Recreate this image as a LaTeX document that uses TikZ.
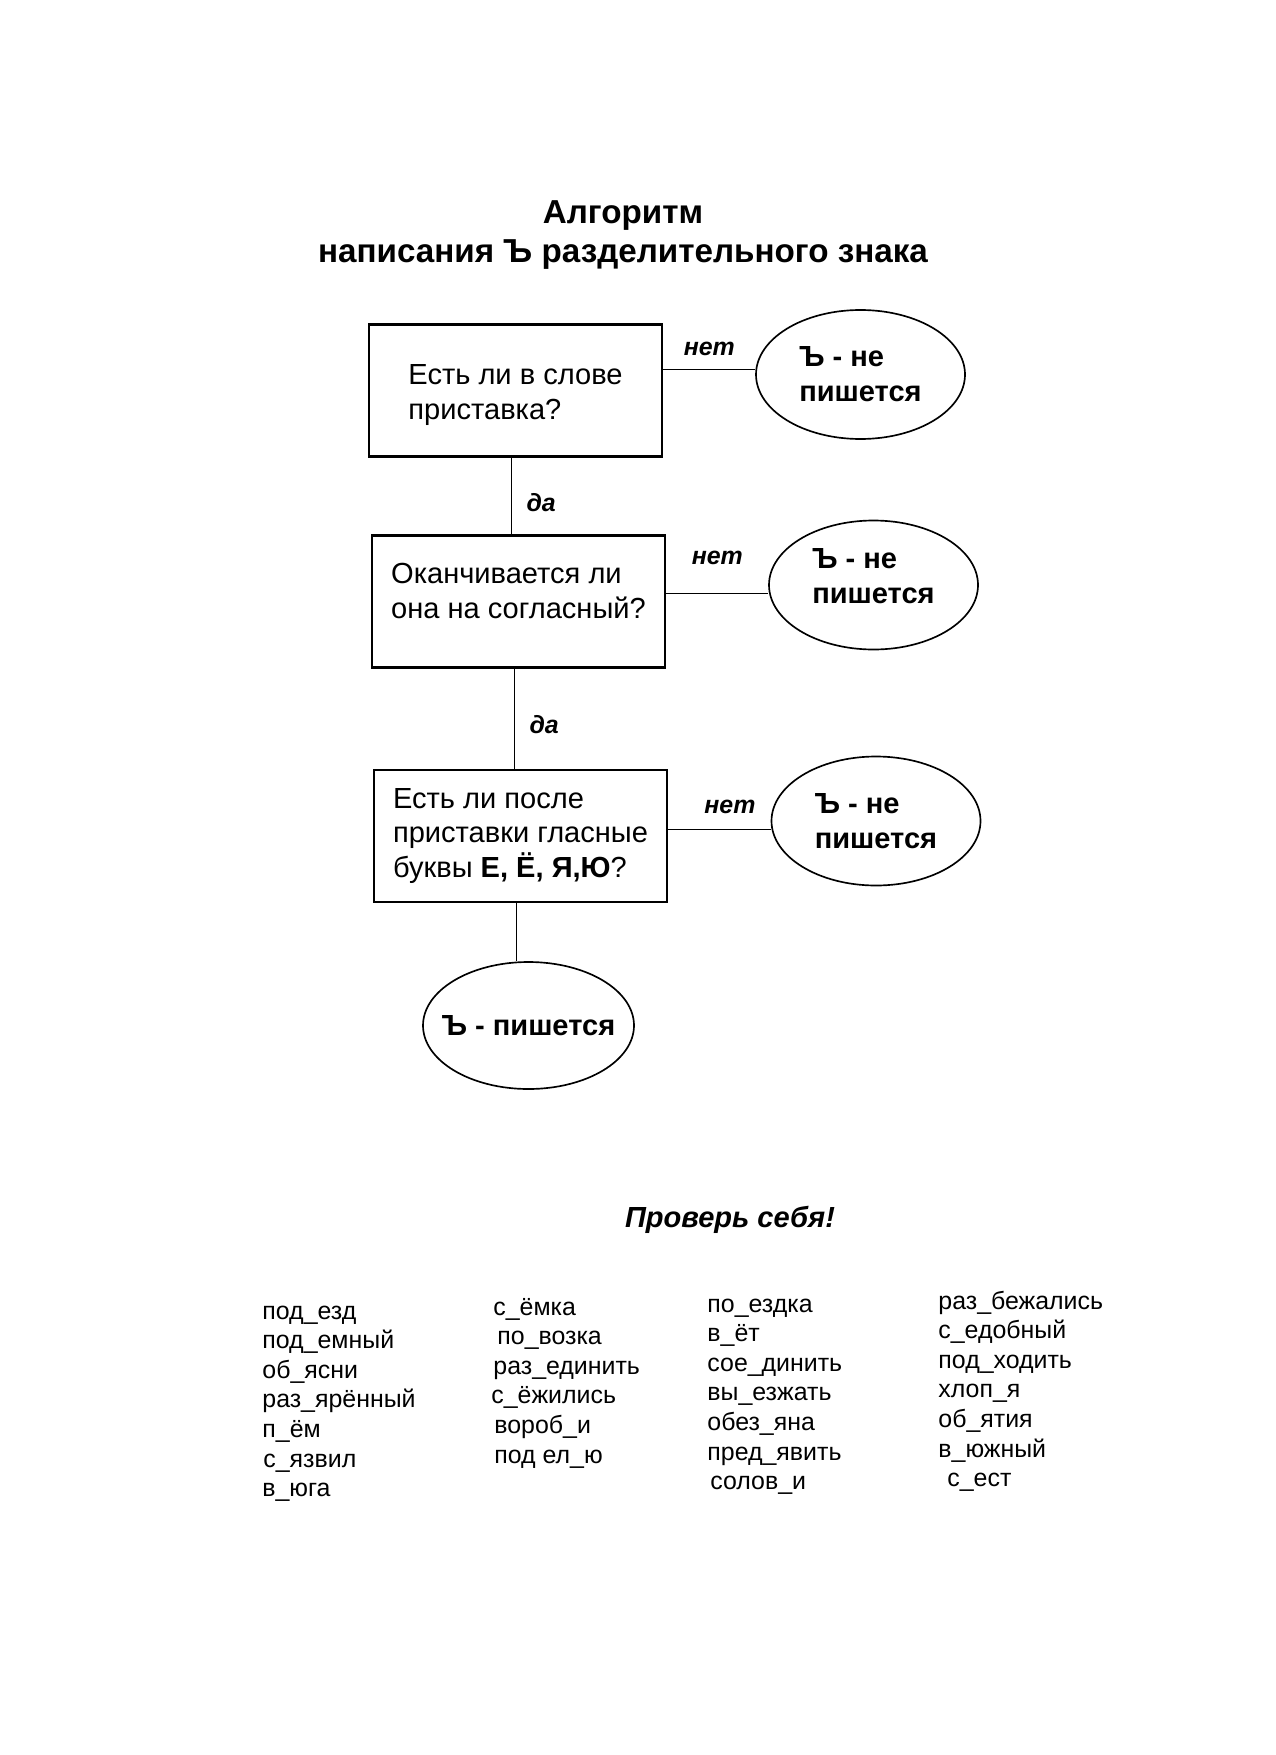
\documentclass[tikz,border=0pt]{standalone}
\usepackage{fontspec}
\setmainfont{Liberation Sans}
\usetikzlibrary{shapes.geometric}
\def\px{0.4818pt}
\newcommand{\Mot}[4]{\node[mot] (#1) at (#2,#3) {#4}}
\tikzset{
	boite/.style={draw, line width=1.4pt, align=left, inner sep=0pt,
		font=\fontsize{14}{16.8}\selectfont,
		minimum width=293*\px, minimum height=132*\px},
	ovale/.style={draw, ellipse, line width=0.8pt, align=left, inner sep=0pt,
		font=\bfseries\fontsize{14}{16.8}\selectfont,
		minimum width=209*\px, minimum height=129*\px},
	trait/.style={line width=0.8pt},
	reponse/.style={font=\bfseries\itshape\fontsize{12}{14}\selectfont},
	mot/.style={anchor=base west, inner sep=0pt, font=\fontsize{12}{14.4}\selectfont}
}
\begin{document}
\begin{tikzpicture}[x=\px, y=-\px]
	\def\pas{29.6};
\useasboundingbox (0,0) rectangle (1275,1755);

%Titre
\node[align=center, font=\bfseries\fontsize{16}{19}\selectfont] (titre) at (623,235)
	{Алгоритм\\написания Ъ разделительного знака};

%Questions
\node[boite, text height=31pt] (q1) at (515.5,390.5) {Есть ли в слове\\приставка?};
\node[boite, text depth=10.4pt] (q2) at (518.5,601.5) {Оканчивается ли\\она на согласный?};
\node[boite] (q3) at (520.5,836) {Есть ли после\\приставки гласные\\буквы \textbf{Е, Ё, Я,Ю}?};

%Reponses
\node[ovale] (e1) at (860.5,374.5) {Ъ - не\\пишется};
\node[ovale, text depth=9pt] (e2) at (873.5,585) {Ъ - не\\пишется};
\node[ovale] (e3) at (876,821) {Ъ - не\\пишется};
\node[ovale, minimum width=211*\px, minimum height=127*\px,
	label={[font=\bfseries\fontsize{14}{16.8}\selectfont]center:Ъ - пишется}] (e4) at (528.5,1025.5) {};

%Liens
\draw[trait] ([xshift=-4*\px]q1.south) -- node[reponse, right=3.5pt, yshift=-3pt] (da1) {да} ([xshift=-4*\px]q1.south |- q2.north);
\draw[trait] ([xshift=-4*\px]q2.south) -- node[reponse, right=3.5pt, yshift=-3pt] (da2) {да} ([xshift=-4*\px]q2.south |- q3.north);
\draw[trait] ([xshift=-4*\px]q3.south) -- ([xshift=-4*\px]q3.south |- e4.north);
\draw[trait] ([yshift=5*\px]q1.east |- e1.west) -- node[reponse, above=3pt] (net1) {нет} ([yshift=5*\px]e1.west);
\draw[trait] ([yshift=-8.4*\px]q2.east |- e2.west) -- node[reponse, above=10pt] (net2) {нет} ([yshift=-8.4*\px]e2.west);
\draw[trait] ([yshift=-8.4*\px]q3.east |- e3.west) -- node[reponse, above=4pt, xshift=5pt] (net3) {нет} ([yshift=-8.4*\px]e3.west);

%Exercice
\node[font=\bfseries\itshape\fontsize{14}{16.8}\selectfont] (verif) at (730,1220) {Проверь себя!};

\Mot{m11}{262}{1319}{под\_езд};
\Mot{m12}{262}{1319+\pas}{под\_емный};
\Mot{m13}{262}{1319+2*\pas}{об\_ясни};
\Mot{m14}{262}{1319+3*\pas}{раз\_ярённый};
\Mot{m15}{262}{1319+4*\pas}{п\_ём};
\Mot{m16}{263}{1319+5*\pas}{с\_язвил};
\Mot{m17}{262}{1319+6*\pas}{в\_юга};

\Mot{m21}{493}{1315}{с\_ёмка};
\Mot{m22}{497}{1315+\pas}{по\_возка};
\Mot{m23}{493}{1315+2*\pas}{раз\_единить};
\Mot{m24}{491}{1315+3*\pas}{с\_ёжились};
\Mot{m25}{494}{1315+4*\pas}{вороб\_и};
\Mot{m26}{494}{1315+5*\pas}{под ел\_ю};

\Mot{m31}{707}{1312}{по\_ездка};
\Mot{m32}{707}{1312+\pas}{в\_ёт};
\Mot{m33}{707}{1312+2*\pas}{сое\_динить};
\Mot{m34}{707}{1312+3*\pas}{вы\_езжать};
\Mot{m35}{707}{1312+4*\pas}{обез\_яна};
\Mot{m36}{707}{1312+5*\pas}{пред\_явить};
\Mot{m37}{710}{1312+6*\pas}{солов\_и};

\Mot{m41}{938}{1309}{раз\_бежались};
\Mot{m42}{938}{1309+\pas}{с\_едобный};
\Mot{m43}{938}{1309+2*\pas}{под\_ходить};
\Mot{m44}{938}{1309+3*\pas}{хлоп\_я};
\Mot{m45}{938}{1309+4*\pas}{об\_ятия};
\Mot{m46}{938}{1309+5*\pas}{в\_южный};
\Mot{m47}{947}{1309+6*\pas}{с\_ест};

\end{tikzpicture}
\end{document}
